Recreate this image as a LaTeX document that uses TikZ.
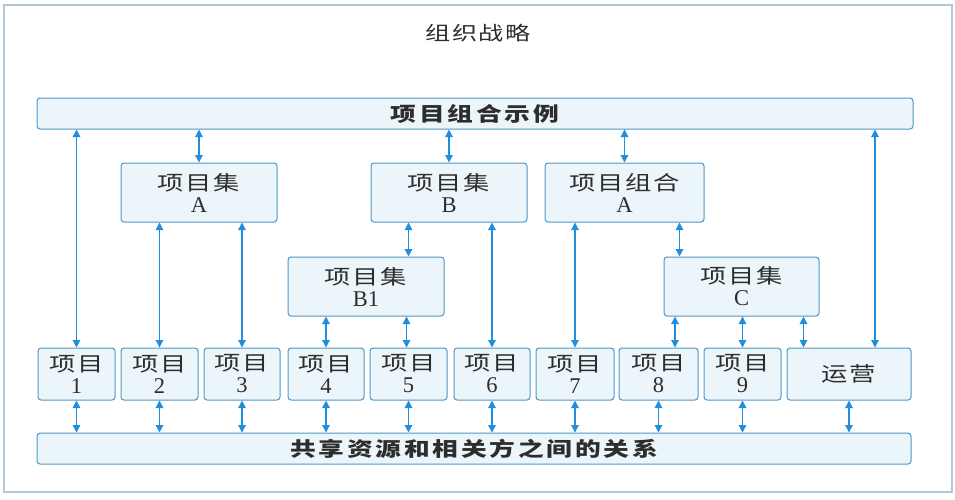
\documentclass[tikz,border=0pt]{standalone}
\usepackage{fontspec}
\setmainfont{Liberation Serif}
\newfontfamily\cjk[Scale=0.9,FakeStretch=1.3,LetterSpace=8]{Noto Sans CJK SC}
\usepackage{xcolor}
\usetikzlibrary{arrows.meta}

\definecolor{boxline}{RGB}{78,150,202}
\definecolor{boxfill}{RGB}{236,245,250}
\definecolor{linkblue}{RGB}{32,142,222}
\definecolor{framegray}{RGB}{176,200,214}
\definecolor{inkgray}{RGB}{45,45,45}

\begin{document}
\begin{tikzpicture}[
  x=1pt,y=-1pt,
  font=\fontsize{22.5}{22}\selectfont,
  frame/.style={draw=framegray,line width=1.2pt,minimum width=948pt,minimum height=487pt,inner sep=0pt},
  title/.style={text=inkgray,font=\fontsize{21.5}{22}\selectfont\cjk},
  bar/.style={draw=boxline,fill=boxfill,line width=1pt,rounded corners=3pt,minimum width=876pt,minimum height=31pt,inner sep=0pt,text=inkgray,font=\fontsize{22}{22}\selectfont\cjk\bfseries\addfontfeature{LetterSpace=14}},
  grp/.style={draw=boxline,fill=boxfill,line width=1pt,rounded corners=3pt,minimum width=156pt,minimum height=59pt,inner sep=0pt,align=center,text=inkgray},
  proj/.style={grp,minimum width=77pt,minimum height=52pt},
  link/.style={{Triangle[length=7.5pt,width=7.5pt]}-{Triangle[length=7.5pt,width=7.5pt]},draw=linkblue,line width=1.3pt}
]
\useasboundingbox (0,0) rectangle (955,499);

% Layout:
% top bar, group row, sub-group row, project row, bottom bar

%%%%%%%%%%%%%%%%%%%%%%%%%%%%%%%%%%%%%%%%%%%%%%%%%%%%
% Frame and bars
%%%%%%%%%%%%%%%%%%%%%%%%%%%%%%%%%%%%%%%%%%%%%%%%%%%%
\node[frame] (org) at (478,248.5) {};
\node[title] (orgtitle) at (478,33) {组织战略};

\node[bar] (top) at (475,113.5) {项目组合示例};
\node[bar,minimum width=874pt] (bot) at (474,448.5) {共享资源和相关方之间的关系};

%%%%%%%%%%%%%%%%%%%%%%%%%%%%%%%%%%%%%%%%%%%%%%%%%%%%
% Programs and portfolio
%%%%%%%%%%%%%%%%%%%%%%%%%%%%%%%%%%%%%%%%%%%%%%%%%%%%
\node[grp] (A) at (199,192.5) {{\cjk 项目集}\\A};
\node[grp] (B) at (449,192.5) {{\cjk 项目集}\\B};
\node[grp,minimum width=159pt] (PA) at (624.5,192.5) {{\cjk 项目组合}\\A};

\node[grp] (B1) at (366,286.5) {{\cjk 项目集}\\B1};
\node[grp,minimum width=155pt] (C) at (741.5,286.5) {{\cjk 项目集}\\C};

%%%%%%%%%%%%%%%%%%%%%%%%%%%%%%%%%%%%%%%%%%%%%%%%%%%%
% Projects and operations
%%%%%%%%%%%%%%%%%%%%%%%%%%%%%%%%%%%%%%%%%%%%%%%%%%%%
\node[proj] (P1) at (76.5,374) {{\cjk 项目}\\1};
\node[proj] (P2) at (159.5,374) {{\cjk 项目}\\2};
\node[proj,minimum width=76pt] (P3) at (242,374) {{\cjk 项目}\\3};
\node[proj,minimum width=76pt] (P4) at (326,374) {{\cjk 项目}\\4};
\node[proj] (P5) at (408.5,374) {{\cjk 项目}\\5};
\node[proj,minimum width=76pt] (P6) at (492,374) {{\cjk 项目}\\6};
\node[proj,minimum width=78pt] (P7) at (575,374) {{\cjk 项目}\\7};
\node[proj,minimum width=79pt] (P8) at (658.5,374) {{\cjk 项目}\\8};
\node[proj] (P9) at (742.5,374) {{\cjk 项目}\\9};
\node[proj,minimum width=124pt] (ops) at (849,374) {\cjk 运营};

%%%%%%%%%%%%%%%%%%%%%%%%%%%%%%%%%%%%%%%%%%%%%%%%%%%%
% Links
%%%%%%%%%%%%%%%%%%%%%%%%%%%%%%%%%%%%%%%%%%%%%%%%%%%%
\draw[link] (top.south -| P1) -- (P1.north);
\draw[link] (top.south -| A) -- (A.north);
\draw[link] (top.south -| B) -- (B.north);
\draw[link] (top.south -| PA) -- (PA.north);
\draw[link] ([xshift=26pt]ops.north |- top.south) -- ([xshift=26pt]ops.north);

\draw[link] (A.south -| P2) -- (P2.north);
\draw[link] (A.south -| P3) -- (P3.north);
\draw[link] (B.south -| P5) -- (B1.north -| P5);
\draw[link] (B.south -| P6) -- (P6.north);
\draw[link] (PA.south -| P7) -- (P7.north);
\draw[link] ([xshift=-62pt]C.north |- PA.south) -- ([xshift=-62pt]C.north);

\draw[link] (B1.south -| P4) -- (P4.north);
\draw[link] ([xshift=-2pt]B1.south -| P5) -- ([xshift=-2pt]P5.north);
\draw[link] ([xshift=-66.5pt]C.south) -- ([xshift=-66.5pt]C.south |- P8.north);
\draw[link] (C.south -| P9) -- (P9.north);
\draw[link] ([xshift=62pt]C.south) -- ([xshift=62pt]C.south |- ops.north);

\draw[link] (P1.south) -- (P1.south |- bot.north);
\draw[link] (P2.south) -- (P2.south |- bot.north);
\draw[link] (P3.south) -- (P3.south |- bot.north);
\draw[link] (P4.south) -- (P4.south |- bot.north);
\draw[link] (P5.south) -- (P5.south |- bot.north);
\draw[link] (P6.south) -- (P6.south |- bot.north);
\draw[link] (P7.south) -- (P7.south |- bot.north);
\draw[link] (P8.south) -- (P8.south |- bot.north);
\draw[link] (P9.south) -- (P9.south |- bot.north);
\draw[link] (ops.south) -- (ops.south |- bot.north);

\end{tikzpicture}
\end{document}
